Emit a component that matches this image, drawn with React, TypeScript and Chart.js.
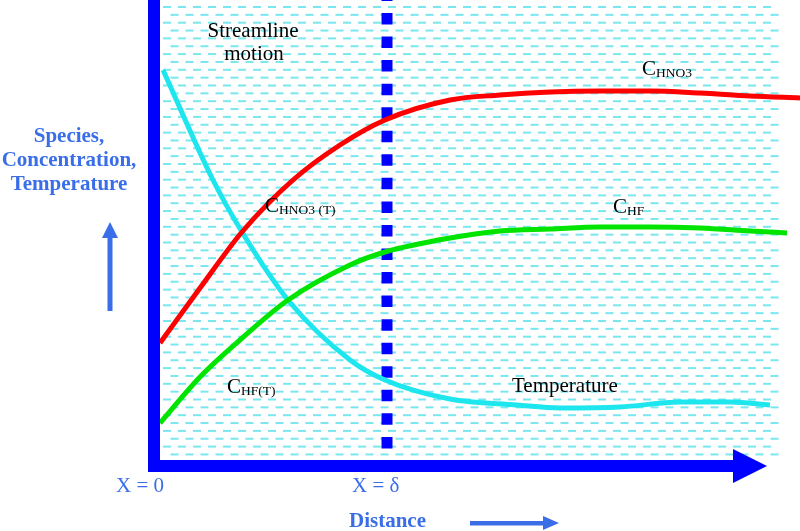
import React, { useEffect, useRef } from "react";
import { Chart, registerables } from "chart.js";

Chart.register(...registerables);

// Distance (x) and value (y) readings, in plot units (x: 0 at the vertical axis, y: 0 at the bottom axis)
const hno3X = [0, 40, 82, 133, 180, 225, 290, 340, 390, 440, 490, 540, 590, 640];
const hno3Y = [117, 172, 228, 280, 315, 340, 360, 365, 368, 369, 369, 367, 364, 362];

const hfX = [0, 40, 80, 128, 190, 225, 290, 340, 390, 440, 490, 540, 590, 627];
const hfY = [37, 83, 120, 160, 195, 208, 222, 229, 231, 233, 233, 232, 229, 227];

const tempX = [3, 53, 82, 128, 190, 225, 290, 357, 400, 460, 520, 570, 610];
const tempY = [390, 280, 228, 160, 100, 80, 61, 55, 52, 53, 58, 58, 55];

const deltaX = [227, 227];
const deltaY = [460, 0];

const xTickLabels = ["X = 0", "X = \u03b4"];
const yTitleLines = ["Species,", "Concentration,", "Temperature"];
const xTitle = "Distance";

const zip = (xs: number[], ys: number[]) => xs.map((x, i) => ({ x, y: ys[i] }));

const SERIF = '"Liberation Serif", "Times New Roman", serif';
const LABEL_BLUE = "#3a6ee8";

const decorPlugin = {
  id: "decor",
  beforeDatasetsDraw(chart: any) {
    const ctx = chart.ctx as CanvasRenderingContext2D;
    ctx.save();
    // hatched background (cyan dashes, brick pattern)
    ctx.fillStyle = "#7ae6f0";
    let r = 0;
    for (let y = 7; y < 459; y += 7.85, r++) {
      const off = (r % 2) * 7.5;
      for (let x = 163 + off; x < 776; x += 15) {
        ctx.fillRect(x, y - 1, 8, 2);
      }
    }
    ctx.restore();
  },
  afterDatasetsDraw(chart: any) {
    const ctx = chart.ctx as CanvasRenderingContext2D;
    ctx.save();
    // axes
    ctx.fillStyle = "#0000ff";
    ctx.fillRect(148, 0, 12, 472);
    ctx.fillRect(148, 460, 587, 12);
    ctx.beginPath();
    ctx.moveTo(733, 449);
    ctx.lineTo(733, 483);
    ctx.lineTo(767, 466);
    ctx.closePath();
    ctx.fill();

    // y title
    ctx.fillStyle = LABEL_BLUE;
    ctx.textAlign = "center";
    ctx.textBaseline = "alphabetic";
    ctx.font = `bold 21px ${SERIF}`;
    yTitleLines.forEach((t, i) => ctx.fillText(t, 69, 142 + i * 24));
    // up arrow
    ctx.fillRect(107.5, 236, 5, 75);
    ctx.beginPath();
    ctx.moveTo(102, 238);
    ctx.lineTo(118, 238);
    ctx.lineTo(110, 222);
    ctx.closePath();
    ctx.fill();

    // x tick labels
    ctx.font = `21px ${SERIF}`;
    ctx.textAlign = "left";
    ctx.fillText(xTickLabels[0], 116, 492);
    ctx.fillText(xTickLabels[1], 352, 492);
    // x title
    ctx.font = `bold 21px ${SERIF}`;
    ctx.fillText(xTitle, 349, 527);
    // right arrow
    ctx.fillRect(470, 521, 75, 4.5);
    ctx.beginPath();
    ctx.moveTo(543, 516);
    ctx.lineTo(543, 530);
    ctx.lineTo(559, 523);
    ctx.closePath();
    ctx.fill();

    // black annotations
    ctx.fillStyle = "#000";
    ctx.textAlign = "center";
    ctx.font = `21px ${SERIF}`;
    ctx.fillText("Streamline", 253, 37);
    ctx.fillText("motion", 254, 60);
    ctx.textAlign = "left";
    ctx.fillText("Temperature", 512, 392);

    const sub = (main: string, s: string, x: number, y: number) => {
      ctx.font = `21px ${SERIF}`;
      ctx.fillText(main, x, y);
      const w = ctx.measureText(main).width;
      ctx.font = `13.5px ${SERIF}`;
      ctx.fillText(s, x + w, y + 2);
    };
    sub("C", "HNO3", 642, 75);
    sub("C", "HF", 613, 213);
    sub("C", "HNO3 (T)", 265, 212);
    sub("C", "HF(T)", 227, 393);
    ctx.restore();
  },
};

export default function App() {
  const ref = useRef<HTMLCanvasElement | null>(null);
  useEffect(() => {
    if (!ref.current) return;
    const chart = new Chart(ref.current, {
      type: "line",
      data: {
        datasets: [
          {
            label: "C HNO3",
            data: zip(hno3X, hno3Y),
            borderColor: "#ff0000",
            borderWidth: 5,
            pointRadius: 0,
            cubicInterpolationMode: "monotone",
          },
          {
            label: "C HF",
            data: zip(hfX, hfY),
            borderColor: "#00e400",
            borderWidth: 5,
            pointRadius: 0,
            cubicInterpolationMode: "monotone",
          },
          {
            label: "Temperature",
            data: zip(tempX, tempY),
            borderColor: "#1ee6ee",
            borderWidth: 5,
            pointRadius: 0,
            cubicInterpolationMode: "monotone",
          },
          {
            label: "X = delta",
            data: zip(deltaX, deltaY),
            borderColor: "#0000ff",
            borderWidth: 11,
            borderDash: [11.5, 12.05],
            borderDashOffset: 10.55,
            borderCapStyle: "butt",
            pointRadius: 0,
          },
        ],
      },
      options: {
        responsive: false,
        animation: false,
        events: [],
        layout: { padding: 0 },
        plugins: { legend: { display: false }, tooltip: { enabled: false } },
        scales: {
          x: { type: "linear", min: -160, max: 640, display: false },
          y: { type: "linear", min: -71, max: 460, display: false },
        },
      },
      plugins: [decorPlugin],
    } as any);
    return () => chart.destroy();
  }, []);
  return (
    <div style={{ position: "fixed", left: 0, top: 0, width: 800, height: 531, background: "#fff" }}>
      <canvas ref={ref} width={800} height={531} style={{ display: "block" }} />
    </div>
  );
}
